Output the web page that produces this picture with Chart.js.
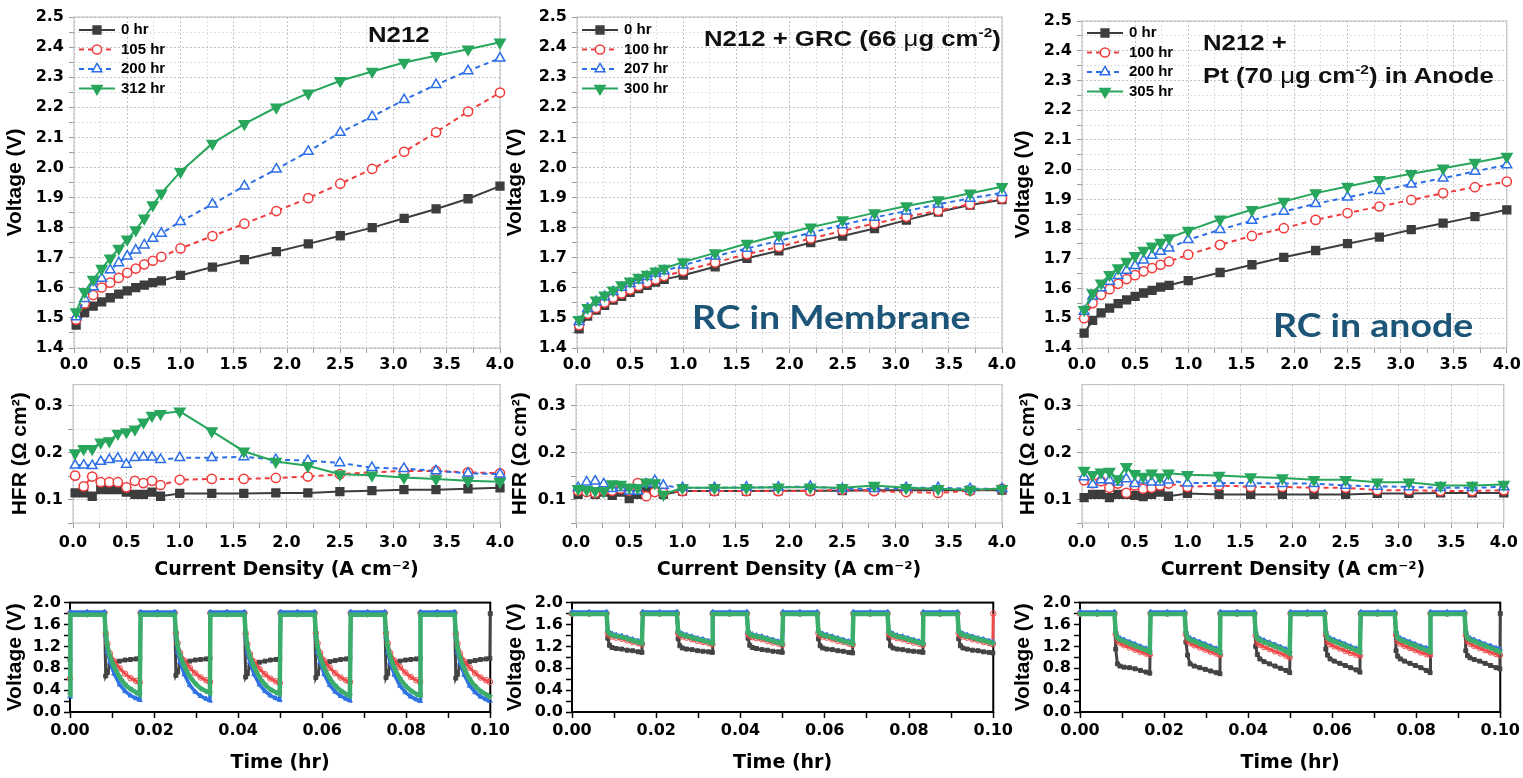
<!DOCTYPE html>
<html><head><meta charset="utf-8">
<script src="https://cdn.jsdelivr.net/npm/chart.js@4.4.1/dist/chart.umd.min.js"></script>
<style>
html,body{margin:0;padding:0;background:#fff;width:1523px;height:778px;overflow:hidden;position:relative;}
canvas{position:absolute;}
.ann{position:absolute;white-space:nowrap;line-height:1;transform-origin:0 0;}
.t{font-family:"Liberation Sans",Arial,sans-serif;font-weight:bold;color:#111;font-size:22px;transform:scaleX(1.17);}
.t .mu{font-weight:normal;}
.rc{font-family:Lato,"Open Sans",sans-serif;font-weight:bold;color:#1c5577;font-size:32px;transform:scaleX(1.17);}
sup{font-size:0.6em;vertical-align:0.65em;line-height:0;}
</style></head><body>
<canvas id="t1" width="520" height="379" style="left:0px;top:0px"></canvas>
<canvas id="t2" width="522" height="379" style="left:500px;top:0px"></canvas>
<canvas id="t3" width="515" height="379" style="left:1008px;top:0px"></canvas>
<canvas id="h1" width="520" height="215" style="left:0px;top:370px"></canvas>
<canvas id="h2" width="522" height="215" style="left:500px;top:370px"></canvas>
<canvas id="h3" width="515" height="215" style="left:1008px;top:370px"></canvas>
<canvas id="b1" width="513" height="188" style="left:0px;top:590px"></canvas>
<canvas id="b2" width="516" height="188" style="left:500px;top:590px"></canvas>
<canvas id="b3" width="515" height="188" style="left:1008px;top:590px"></canvas>
<div class="ann t" style="left:368px;top:24px;">N212</div>
<div class="ann t" style="left:704px;top:28px;">N212 + GRC (66 <span class="mu">μ</span>g cm<sup>-2</sup>)</div>
<div class="ann t" style="left:1203px;top:32px;">N212 +</div>
<div class="ann t" style="left:1203px;top:65px;">Pt (70 <span class="mu">μ</span>g cm<sup>-2</sup>) in Anode</div>
<div class="ann rc" style="left:692px;top:301px;">RC in Membrane</div>
<div class="ann rc" style="left:1273px;top:309px;">RC in anode</div>
<script>
// ---------------- DATA ----------------
const currentDensity = [0.02,0.1,0.18,0.26,0.34,0.42,0.5,0.58,0.66,0.74,0.82,1.0,1.3,1.6,1.9,2.2,2.5,2.8,3.1,3.4,3.7,4.0];

const labels_N212 = ['0 hr','105 hr','200 hr','312 hr'];
const labels_GRC  = ['0 hr','100 hr','207 hr','300 hr'];
const labels_Pt   = ['0 hr','100 hr','200 hr','305 hr'];

const v_N212_0   = [1.476,1.518,1.539,1.553,1.567,1.579,1.590,1.601,1.609,1.617,1.623,1.641,1.669,1.694,1.720,1.746,1.773,1.800,1.831,1.862,1.896,1.938];
const v_N212_105 = [1.494,1.548,1.576,1.601,1.617,1.633,1.650,1.664,1.678,1.690,1.703,1.731,1.772,1.813,1.855,1.898,1.946,1.995,2.052,2.117,2.186,2.249];
const v_N212_200 = [1.503,1.564,1.603,1.631,1.659,1.683,1.705,1.725,1.742,1.764,1.781,1.820,1.878,1.938,1.994,2.053,2.116,2.169,2.225,2.275,2.321,2.363];
const v_N212_312 = [1.520,1.587,1.628,1.664,1.698,1.731,1.761,1.792,1.831,1.875,1.914,1.986,2.080,2.145,2.200,2.247,2.288,2.319,2.349,2.371,2.393,2.416];

const v_GRC_0   = [1.464,1.506,1.526,1.542,1.559,1.572,1.585,1.597,1.608,1.619,1.628,1.642,1.670,1.698,1.723,1.750,1.772,1.797,1.825,1.852,1.875,1.893];
const v_GRC_100 = [1.476,1.514,1.533,1.551,1.567,1.581,1.594,1.606,1.618,1.628,1.639,1.656,1.684,1.712,1.736,1.764,1.789,1.814,1.836,1.856,1.878,1.897];
const v_GRC_207 = [1.487,1.531,1.553,1.570,1.587,1.601,1.614,1.625,1.637,1.648,1.656,1.675,1.705,1.731,1.756,1.783,1.809,1.834,1.855,1.878,1.897,1.916];
const v_GRC_300 = [1.494,1.534,1.559,1.575,1.592,1.609,1.622,1.634,1.644,1.655,1.664,1.686,1.716,1.747,1.775,1.801,1.825,1.849,1.872,1.892,1.914,1.936];

const v_Pt_0   = [1.450,1.493,1.518,1.534,1.549,1.562,1.574,1.585,1.594,1.605,1.611,1.627,1.654,1.680,1.705,1.728,1.751,1.773,1.798,1.820,1.842,1.865];
const v_Pt_100 = [1.500,1.551,1.579,1.598,1.616,1.632,1.645,1.658,1.669,1.680,1.691,1.714,1.747,1.777,1.803,1.831,1.854,1.876,1.898,1.921,1.941,1.960];
const v_Pt_200 = [1.523,1.574,1.602,1.624,1.643,1.661,1.677,1.695,1.711,1.725,1.736,1.764,1.798,1.829,1.859,1.885,1.907,1.929,1.951,1.971,1.994,2.016];
const v_Pt_305 = [1.529,1.585,1.618,1.646,1.669,1.691,1.710,1.728,1.742,1.755,1.770,1.795,1.833,1.865,1.893,1.921,1.943,1.966,1.986,2.005,2.024,2.044];

const hfr_N212_0   = [0.114,0.114,0.107,0.121,0.121,0.121,0.116,0.111,0.111,0.116,0.107,0.113,0.113,0.113,0.114,0.114,0.117,0.119,0.121,0.121,0.123,0.125];
const hfr_N212_105 = [0.151,0.128,0.149,0.137,0.137,0.137,0.126,0.140,0.135,0.140,0.131,0.142,0.144,0.144,0.146,0.149,0.154,0.158,0.161,0.161,0.158,0.156];
const hfr_N212_200 = [0.173,0.173,0.172,0.181,0.185,0.188,0.175,0.189,0.190,0.190,0.185,0.189,0.189,0.191,0.185,0.183,0.178,0.168,0.166,0.161,0.156,0.154];
const hfr_N212_312 = [0.199,0.208,0.208,0.222,0.225,0.241,0.244,0.250,0.265,0.279,0.283,0.288,0.246,0.203,0.181,0.172,0.154,0.152,0.147,0.144,0.140,0.138];

const hfr_GRC_0   = [0.111,0.118,0.111,0.116,0.109,0.116,0.102,0.111,0.123,0.118,0.111,0.118,0.118,0.118,0.119,0.119,0.119,0.120,0.120,0.120,0.120,0.120];
const hfr_GRC_100 = [0.119,0.116,0.114,0.119,0.119,0.123,0.119,0.135,0.107,0.116,0.114,0.118,0.118,0.118,0.118,0.118,0.121,0.118,0.116,0.114,0.119,0.123];
const hfr_GRC_207 = [0.125,0.137,0.139,0.133,0.123,0.125,0.118,0.118,0.133,0.140,0.130,0.125,0.125,0.126,0.126,0.128,0.123,0.123,0.125,0.125,0.123,0.123];
const hfr_GRC_300 = [0.123,0.121,0.119,0.118,0.133,0.132,0.126,0.125,0.137,0.135,0.111,0.125,0.125,0.125,0.126,0.126,0.125,0.130,0.125,0.123,0.121,0.123];

const hfr_Pt_0   = [0.104,0.111,0.111,0.104,0.111,0.111,0.109,0.106,0.111,0.116,0.107,0.113,0.111,0.111,0.111,0.111,0.111,0.113,0.113,0.114,0.114,0.114];
const hfr_Pt_100 = [0.141,0.135,0.139,0.125,0.134,0.114,0.130,0.123,0.125,0.130,0.134,0.127,0.130,0.127,0.127,0.125,0.125,0.120,0.120,0.118,0.118,0.120];
const hfr_Pt_200 = [0.148,0.132,0.142,0.141,0.137,0.144,0.134,0.141,0.137,0.137,0.141,0.135,0.135,0.135,0.134,0.134,0.130,0.128,0.127,0.125,0.125,0.127];
const hfr_Pt_305 = [0.162,0.153,0.158,0.160,0.144,0.170,0.155,0.149,0.156,0.148,0.156,0.153,0.151,0.148,0.146,0.142,0.142,0.137,0.137,0.130,0.130,0.132];

const timeHr = [0,
 0.0001,0.0041,0.0082,0.0085,0.0089,0.0095,0.0105,0.0118,0.0131,0.0144,0.0157,0.0166,
 0.0168,0.0208,0.0249,0.0252,0.0256,0.0262,0.0272,0.0285,0.0298,0.0311,0.0324,0.0333,
 0.0334,0.0374,0.0415,0.0418,0.0422,0.0428,0.0438,0.0451,0.0464,0.0477,0.0490,0.0499,
 0.0501,0.0541,0.0582,0.0585,0.0589,0.0595,0.0605,0.0618,0.0631,0.0644,0.0657,0.0666,
 0.0668,0.0708,0.0749,0.0752,0.0756,0.0762,0.0772,0.0785,0.0798,0.0811,0.0824,0.0833,
 0.0834,0.0874,0.0915,0.0918,0.0922,0.0928,0.0938,0.0951,0.0964,0.0977,0.0990,0.0999,
 0.1];

const cyc_N212_0 = [0.96,
 1.80,1.80,1.80, 0.66,0.72,0.85,0.90,0.93,0.95,0.96,0.97,0.98,
 1.80,1.80,1.80, 0.67,0.73,0.86,0.90,0.93,0.95,0.96,0.97,0.98,
 1.80,1.80,1.80, 0.64,0.70,0.83,0.88,0.91,0.93,0.95,0.96,0.97,
 1.80,1.80,1.80, 0.63,0.70,0.84,0.89,0.92,0.94,0.96,0.97,0.98,
 1.80,1.80,1.80, 0.63,0.70,0.85,0.90,0.93,0.95,0.96,0.97,0.98,
 1.80,1.80,1.80, 0.62,0.69,0.84,0.89,0.92,0.94,0.96,0.97,0.98,
 1.80];
const cyc_N212_105 = [0.61,
 1.81,1.81,1.81, 1.43,1.25,1.07,0.93,0.80,0.70,0.62,0.57,0.54,
 1.81,1.81,1.81, 1.44,1.26,1.08,0.94,0.81,0.71,0.63,0.58,0.55,
 1.81,1.81,1.81, 1.43,1.24,1.06,0.92,0.79,0.69,0.61,0.56,0.53,
 1.81,1.81,1.81, 1.44,1.26,1.08,0.94,0.81,0.71,0.63,0.58,0.55,
 1.81,1.81,1.81, 1.44,1.26,1.08,0.94,0.82,0.72,0.64,0.58,0.55,
 1.81,1.81,1.81, 1.43,1.25,1.07,0.93,0.81,0.71,0.63,0.58,0.55,
 null];
const cyc_N212_200 = [0.28,
 1.83,1.83,1.83, 1.40,1.10,0.92,0.70,0.50,0.38,0.30,0.25,0.22,
 1.83,1.83,1.83, 1.40,1.10,0.91,0.69,0.49,0.37,0.29,0.24,0.21,
 1.83,1.83,1.83, 1.39,1.09,0.91,0.69,0.50,0.38,0.30,0.25,0.22,
 1.83,1.83,1.83, 1.40,1.10,0.91,0.69,0.49,0.37,0.29,0.24,0.21,
 1.83,1.83,1.83, 1.39,1.09,0.90,0.68,0.48,0.36,0.28,0.23,0.20,
 1.83,1.83,1.83, 1.39,1.09,0.90,0.68,0.48,0.36,0.28,0.23,0.20,
 null];
const cyc_N212_312 = [0.32,
 1.78,1.78,1.78, 1.45,1.20,1.02,0.82,0.64,0.50,0.42,0.36,0.32,
 1.78,1.78,1.78, 1.46,1.21,1.03,0.83,0.65,0.52,0.43,0.38,0.35,
 1.78,1.78,1.78, 1.45,1.20,1.02,0.82,0.63,0.50,0.41,0.36,0.33,
 1.78,1.78,1.78, 1.45,1.19,1.01,0.80,0.61,0.48,0.39,0.33,0.30,
 1.78,1.78,1.78, 1.45,1.19,1.01,0.80,0.61,0.48,0.39,0.33,0.30,
 1.78,1.78,1.78, 1.45,1.18,1.00,0.79,0.60,0.47,0.38,0.32,0.28,
 null];

const cyc_GRC_0 = [1.80,
 1.80,1.80,1.80, 1.35,1.22,1.18,1.16,1.15,1.13,1.12,1.10,1.09,
 1.80,1.80,1.80, 1.34,1.21,1.17,1.15,1.14,1.12,1.11,1.10,1.09,
 1.80,1.80,1.80, 1.35,1.22,1.18,1.16,1.14,1.13,1.11,1.10,1.09,
 1.80,1.80,1.80, 1.34,1.21,1.17,1.15,1.14,1.12,1.11,1.09,1.08,
 1.80,1.80,1.80, 1.35,1.21,1.17,1.15,1.14,1.12,1.11,1.10,1.09,
 1.80,1.80,1.80, 1.34,1.21,1.17,1.15,1.13,1.12,1.10,1.09,1.08,
 null];
const cyc_GRC_100 = [1.80,
 1.80,1.80,1.80, 1.44,1.40,1.38,1.36,1.34,1.31,1.28,1.26,1.24,
 1.80,1.80,1.80, 1.44,1.40,1.38,1.36,1.33,1.30,1.28,1.26,1.24,
 1.80,1.80,1.80, 1.43,1.39,1.37,1.35,1.33,1.30,1.27,1.25,1.23,
 1.80,1.80,1.80, 1.44,1.40,1.38,1.36,1.33,1.30,1.28,1.25,1.23,
 1.80,1.80,1.80, 1.43,1.40,1.38,1.35,1.33,1.30,1.27,1.25,1.23,
 1.80,1.80,1.80, 1.44,1.40,1.38,1.36,1.33,1.31,1.28,1.26,1.24,
 1.80];
const cyc_GRC_207 = [1.83,
 1.83,1.83,1.83, 1.49,1.45,1.43,1.41,1.39,1.36,1.33,1.30,1.28,
 1.83,1.83,1.83, 1.49,1.45,1.43,1.41,1.38,1.35,1.33,1.30,1.28,
 1.83,1.83,1.83, 1.48,1.44,1.42,1.40,1.38,1.35,1.32,1.29,1.27,
 1.83,1.83,1.83, 1.49,1.45,1.43,1.41,1.38,1.35,1.32,1.29,1.27,
 1.83,1.83,1.83, 1.48,1.45,1.43,1.40,1.38,1.35,1.32,1.29,1.27,
 1.83,1.83,1.83, 1.49,1.45,1.43,1.41,1.38,1.35,1.33,1.30,1.28,
 null];
const cyc_GRC_300 = [1.79,
 1.79,1.79,1.79, 1.47,1.43,1.41,1.39,1.37,1.34,1.31,1.28,1.26,
 1.79,1.79,1.79, 1.47,1.43,1.41,1.39,1.36,1.33,1.31,1.28,1.26,
 1.79,1.79,1.79, 1.46,1.42,1.40,1.38,1.36,1.33,1.30,1.27,1.25,
 1.79,1.79,1.79, 1.47,1.43,1.41,1.39,1.36,1.33,1.30,1.27,1.25,
 1.79,1.79,1.79, 1.46,1.43,1.41,1.38,1.36,1.33,1.30,1.27,1.25,
 1.79,1.79,1.79, 1.47,1.43,1.41,1.39,1.36,1.33,1.31,1.28,1.26,
 null];

const cyc_Pt_0 = [1.80,
 1.80,1.80,1.80, 1.15,0.88,0.84,0.82,0.81,0.79,0.76,0.73,0.71,
 1.80,1.80,1.80, 1.28,1.04,0.88,0.84,0.81,0.78,0.75,0.72,0.70,
 1.80,1.80,1.80, 1.20,1.05,0.97,0.92,0.88,0.84,0.80,0.76,0.72,
 1.80,1.80,1.80, 1.15,1.04,0.97,0.93,0.89,0.85,0.81,0.77,0.73,
 1.80,1.80,1.80, 1.12,1.02,0.97,0.93,0.89,0.85,0.81,0.76,0.72,
 1.80,1.80,1.80, 1.12,1.03,0.99,0.96,0.93,0.89,0.85,0.81,0.79,
 1.80];
const cyc_Pt_100 = [1.80,
 1.80,1.80,1.80, 1.42,1.30,1.26,1.22,1.18,1.14,1.10,1.07,1.05,
 1.80,1.80,1.80, 1.42,1.30,1.26,1.22,1.18,1.14,1.10,1.07,1.04,
 1.80,1.80,1.80, 1.40,1.27,1.23,1.19,1.15,1.11,1.07,1.03,1.00,
 1.80,1.80,1.80, 1.41,1.28,1.24,1.20,1.16,1.12,1.08,1.05,1.03,
 1.80,1.80,1.80, 1.41,1.29,1.25,1.21,1.17,1.13,1.09,1.06,1.04,
 1.80,1.80,1.80, 1.41,1.29,1.25,1.21,1.17,1.13,1.09,1.06,1.04,
 null];
const cyc_Pt_200 = [1.83,
 1.83,1.83,1.83, 1.48,1.38,1.35,1.32,1.28,1.24,1.20,1.16,1.13,
 1.83,1.83,1.83, 1.48,1.38,1.35,1.32,1.28,1.24,1.20,1.16,1.13,
 1.83,1.83,1.83, 1.47,1.37,1.34,1.31,1.27,1.23,1.19,1.15,1.12,
 1.83,1.83,1.83, 1.48,1.38,1.35,1.32,1.28,1.24,1.20,1.16,1.14,
 1.83,1.83,1.83, 1.48,1.38,1.35,1.32,1.28,1.24,1.20,1.17,1.14,
 1.83,1.83,1.83, 1.48,1.38,1.35,1.32,1.28,1.24,1.21,1.17,1.15,
 null];
const cyc_Pt_305 = [1.79,
 1.79,1.79,1.79, 1.45,1.35,1.32,1.29,1.25,1.21,1.17,1.13,1.10,
 1.79,1.79,1.79, 1.45,1.35,1.32,1.29,1.25,1.21,1.17,1.13,1.09,
 1.79,1.79,1.79, 1.44,1.34,1.31,1.28,1.24,1.20,1.16,1.11,1.07,
 1.79,1.79,1.79, 1.45,1.35,1.32,1.29,1.25,1.21,1.17,1.13,1.10,
 1.79,1.79,1.79, 1.45,1.35,1.32,1.29,1.25,1.21,1.17,1.13,1.10,
 1.79,1.79,1.79, 1.45,1.35,1.32,1.29,1.25,1.21,1.17,1.13,1.10,
 null];

// tick positions & labels
const cdTicks  = [0,0.25,0.5,0.75,1.0,1.25,1.5,1.75,2.0,2.25,2.5,2.75,3.0,3.25,3.5,3.75,4.0];
const cdLabels = ['0.0','','0.5','','1.0','','1.5','','2.0','','2.5','','3.0','','3.5','','4.0'];
const voltTicks  = [1.4,1.45,1.5,1.55,1.6,1.65,1.7,1.75,1.8,1.85,1.9,1.95,2.0,2.05,2.1,2.15,2.2,2.25,2.3,2.35,2.4,2.45,2.5];
const voltLabels = ['1.4','','1.5','','1.6','','1.7','','1.8','','1.9','','2.0','','2.1','','2.2','','2.3','','2.4','','2.5'];
const hfrTicks  = [0.05,0.1,0.15,0.2,0.25,0.3];
const hfrLabels = ['','0.1','','0.2','','0.3'];
const timeTicks  = [0,0.01,0.02,0.03,0.04,0.05,0.06,0.07,0.08,0.09,0.1];
const timeLabels = ['0.00','','0.02','','0.04','','0.06','','0.08','','0.10'];
const cycTicks  = [0,0.2,0.4,0.6,0.8,1.0,1.2,1.4,1.6,1.8,2.0];
const cycLabels = ['0.0','','0.4','','0.8','','1.2','','1.6','','2.0'];

// ---------------- STYLE ----------------
const TICKFONT = "'DejaVu Sans', sans-serif";
const ARIAL = "'Liberation Sans', Arial, sans-serif";
const STY = {
  k: {color:'#3d3d3d', ps:'rect',     rot:0,   filled:true,  dash:[],    r:5.5, order:3, bw2:3},
  r: {color:'#f03c3c', ps:'circle',   rot:0,   filled:false, dash:[5,4], r:4.6, order:2, bw2:3},
  b: {color:'#2c6fe6', ps:'triangle', rot:0,   filled:false, dash:[5,4], r:5.6, order:1, bw2:3.5},
  g: {color:'#27a65c', ps:'triangle', rot:180, filled:true,  dash:[],    r:6,   order:0, bw2:4.5}
};
const STY_SMALL_COLORS = {k:'#444444', r:'#ee4a4a', b:'#2f72e4', g:'#3cae6c'};

function series(kind, label, xs, ys, small) {
  const s = STY[kind];
  const col = small ? STY_SMALL_COLORS[kind] : s.color;
  return {
    label: label,
    data: xs.map((x, i) => ({x: x, y: ys[i]})),
    order: s.order,
    borderColor: col,
    borderWidth: small ? s.bw2 : 2,
    borderDash: small ? [] : s.dash,
    pointStyle: s.ps,
    pointRotation: s.rot,
    pointRadius: small ? 2.8 : s.r,
    pointBorderWidth: small ? 1 : 1.5,
    pointBackgroundColor: s.filled ? col : (small ? 'rgba(255,255,255,0)' : '#ffffff'),
    pointBorderColor: col,
    tension: 0, spanGaps: false, fill: false, clip: 10
  };
}

function axis(c) {
  return {
    type: 'linear', min: c.min, max: c.max,
    afterBuildTicks: s => { s.ticks = c.ticks.map(v => ({value: v})); },
    afterFit: s => { if (c.width) s.width = c.width; if (c.height) s.height = c.height; },
    ticks: {
      autoSkip: false, maxRotation: 0, minRotation: 0, padding: c.pad, color: '#000',
      font: {family: TICKFONT, weight: 'bold', size: c.fontSize},
      callback: (v, i) => c.labels[i]
    },
    grid: c.boxed ? {
      drawOnChartArea: false, drawTicks: true, tickLength: c.tl || 6, tickColor: '#000', tickWidth: 1.5, color: '#000'
    } : {
      drawOnChartArea: true, drawTicks: true, tickLength: 5,
      color: ctx => (c.labels[ctx.index] ? '#c2c2c2' : '#e0e0e0'),
      tickColor: '#9a9a9a', tickWidth: 1, lineWidth: 1
    },
    border: {display: false, dash: c.boxed ? [] : [2, 2]},
    title: c.title ? {
      display: true, text: c.title, color: '#000',
      font: {family: c.titleFamily, weight: 'bold', size: c.titleSize},
      padding: {top: c.titlePad, bottom: 4}
    } : {display: false}
  };
}

const framePlugin = {
  id: 'frame',
  beforeDatasetsDraw(chart, args, o) {
    const {ctx, chartArea: a} = chart;
    ctx.save();
    ctx.strokeStyle = o.color; ctx.lineWidth = o.width;
    ctx.strokeRect(a.left, a.top, a.right - a.left, a.bottom - a.top);
    ctx.restore();
  }
};
const insideLegend = {
  id: 'insideLegend',
  afterDraw(chart, args, o) {
    if (!o || !o.show) return;
    const {ctx, chartArea: a} = chart;
    chart.data.datasets.forEach((ds, i) => {
      const y = a.top + o.dy + i * o.gap;
      const x0 = a.left + o.dx, x1 = x0 + o.len;
      ctx.save();
      ctx.strokeStyle = ds.borderColor; ctx.lineWidth = ds.borderWidth;
      ctx.setLineDash(ds.borderDash || []);
      ctx.beginPath(); ctx.moveTo(x0, y); ctx.lineTo(x1, y); ctx.stroke();
      ctx.setLineDash([]);
      ctx.fillStyle = ds.pointBackgroundColor; ctx.strokeStyle = ds.pointBorderColor; ctx.lineWidth = ds.pointBorderWidth;
      Chart.helpers.drawPoint(ctx, {pointStyle: ds.pointStyle, rotation: ds.pointRotation || 0,
        radius: ds.pointRadius, borderWidth: ds.pointBorderWidth}, (x0 + x1) / 2, y);
      ctx.fillStyle = '#000'; ctx.font = o.font; ctx.textBaseline = 'middle'; ctx.textAlign = 'left';
      ctx.fillText(ds.label, x1 + o.tx, y);
      ctx.restore();
    });
  }
};
Chart.register(framePlugin, insideLegend);

function make(id, datasets, xA, yA, pad, frame, legend) {
  return new Chart(document.getElementById(id), {
    type: 'line',
    data: {datasets: datasets},
    options: {
      responsive: false, maintainAspectRatio: false, animation: false, events: [],
      layout: {padding: pad},
      scales: {x: xA, y: yA},
      plugins: {
        legend: {display: false}, tooltip: {enabled: false},
        frame: frame,
        insideLegend: legend || {show: false}
      }
    }
  });
}

const LEG = {show: true, dx: 5, dy: 13, gap: 19.5, len: 36, tx: 6, font: "bold 15px 'Liberation Sans', Arial, sans-serif"};
const LIGHTFRAME = {color: '#bdbdbd', width: 1};
const BLACKFRAME = {color: '#000', width: 2};

function topX() { return axis({min:0, max:4, ticks:cdTicks, labels:cdLabels, height:31, fontSize:16, pad:2}); }
function topY(w) { return axis({min:1.4, max:2.5, ticks:voltTicks, labels:voltLabels, width:w, fontSize:16, pad:5,
  title:'Voltage (V)', titleFamily:ARIAL, titleSize:21, titlePad:3}); }
function hfrX() { return axis({min:0, max:4, ticks:cdTicks, labels:cdLabels, height:62, fontSize:16, pad:5,
  title:'Current Density (A cm⁻²)', titleFamily:TICKFONT, titleSize:19}); }
function hfrY(w) { return axis({min:0.05, max:0.345, ticks:hfrTicks, labels:hfrLabels, width:w, fontSize:16, pad:5,
  title:'HFR (Ω cm²)', titleFamily:ARIAL, titleSize:21, titlePad:8}); }
function cycX() { return axis({min:0, max:0.1, ticks:timeTicks, labels:timeLabels, height:66, fontSize:16, pad:3, boxed:true,
  title:'Time (hr)', titleFamily:TICKFONT, titleSize:19}); }
function cycY(w) { return axis({min:0, max:2.0, ticks:cycTicks, labels:cycLabels, width:w, fontSize:16, pad:3, boxed:true,
  title:'Voltage (V)', titleFamily:ARIAL, titleSize:21, titlePad:3}); }

const X = currentDensity;
make('t1', [series('k',labels_N212[0],X,v_N212_0), series('r',labels_N212[1],X,v_N212_105),
            series('b',labels_N212[2],X,v_N212_200), series('g',labels_N212[3],X,v_N212_312)],
     topX(), topY(74), {top:17, right:20, left:0, bottom:0}, LIGHTFRAME, LEG);
make('t2', [series('k',labels_GRC[0],X,v_GRC_0), series('r',labels_GRC[1],X,v_GRC_100),
            series('b',labels_GRC[2],X,v_GRC_207), series('g',labels_GRC[3],X,v_GRC_300)],
     topX(), topY(77), {top:17, right:20, left:0, bottom:0}, LIGHTFRAME, LEG);
make('t3', [series('k',labels_Pt[0],X,v_Pt_0), series('r',labels_Pt[1],X,v_Pt_100),
            series('b',labels_Pt[2],X,v_Pt_200), series('g',labels_Pt[3],X,v_Pt_305)],
     topX(), topY(74), {top:21, right:15, left:0, bottom:0}, LIGHTFRAME, Object.assign({}, LEG, {dy:12}));

make('h1', [series('k',labels_N212[0],X,hfr_N212_0), series('r',labels_N212[1],X,hfr_N212_105),
            series('b',labels_N212[2],X,hfr_N212_200), series('g',labels_N212[3],X,hfr_N212_312)],
     hfrX(), hfrY(73), {top:12, right:20, left:0, bottom:0}, LIGHTFRAME);
make('h2', [series('k',labels_GRC[0],X,hfr_GRC_0), series('r',labels_GRC[1],X,hfr_GRC_100),
            series('b',labels_GRC[2],X,hfr_GRC_207), series('g',labels_GRC[3],X,hfr_GRC_300)],
     hfrX(), hfrY(76), {top:12, right:20, left:0, bottom:0}, LIGHTFRAME);
make('h3', [series('k',labels_Pt[0],X,hfr_Pt_0), series('r',labels_Pt[1],X,hfr_Pt_100),
            series('b',labels_Pt[2],X,hfr_Pt_200), series('g',labels_Pt[3],X,hfr_Pt_305)],
     hfrX(), hfrY(74), {top:12, right:15, left:0, bottom:0}, LIGHTFRAME);

const T = timeHr;
make('b1', [series('k',labels_N212[0],T,cyc_N212_0,true), series('r',labels_N212[1],T,cyc_N212_105,true),
            series('b',labels_N212[2],T,cyc_N212_200,true), series('g',labels_N212[3],T,cyc_N212_312,true)],
     cycX(), cycY(70), {top:10, right:20, left:0, bottom:0}, BLACKFRAME);
make('b2', [series('k',labels_GRC[0],T,cyc_GRC_0,true), series('r',labels_GRC[1],T,cyc_GRC_100,true),
            series('b',labels_GRC[2],T,cyc_GRC_207,true), series('g',labels_GRC[3],T,cyc_GRC_300,true)],
     cycX(), cycY(72), {top:10, right:20, left:0, bottom:0}, BLACKFRAME);
make('b3', [series('k',labels_Pt[0],T,cyc_Pt_0,true), series('r',labels_Pt[1],T,cyc_Pt_100,true),
            series('b',labels_Pt[2],T,cyc_Pt_200,true), series('g',labels_Pt[3],T,cyc_Pt_305,true)],
     cycX(), cycY(72), {top:10, right:20, left:0, bottom:0}, BLACKFRAME);
</script>
</body></html>
